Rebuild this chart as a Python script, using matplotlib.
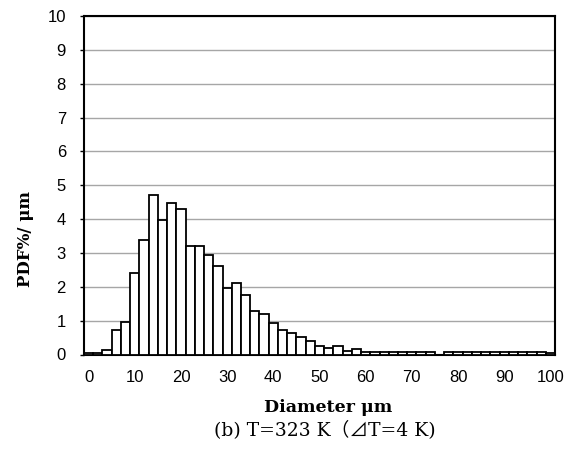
import matplotlib
matplotlib.use("Agg")
import matplotlib.pyplot as plt
import numpy as np

# Category labels (diameter in um, 2 um bins)
categories = list(range(0, 101, 2))
# PDF %/um per bin
pdf_values = [0.05, 0.03, 0.12, 0.72, 0.95, 2.40, 3.38, 4.71, 3.97, 4.48,
              4.29, 3.21, 3.21, 2.94, 2.62, 1.95, 2.12, 1.76, 1.29, 1.20,
              0.92, 0.72, 0.64, 0.53, 0.40, 0.25, 0.20, 0.26, 0.11, 0.17,
              0.08, 0.08, 0.08, 0.08, 0.08, 0.08, 0.08, 0.08, 0.00, 0.08,
              0.08, 0.08, 0.08, 0.08, 0.08, 0.08, 0.08, 0.08, 0.08, 0.08,
              0.05]
shown_labels = [0, 10, 20, 30, 40, 50, 60, 70, 80, 90, 100]
y_ticks = list(range(0, 11))

fig = plt.figure(figsize=(5.76, 4.51), dpi=100)
ax = fig.add_axes([84/576, 1-354.5/451, 471/576, (354.5-16)/451])

x = np.arange(len(categories))
ax.bar(x, pdf_values, width=1.0, color='white', edgecolor='black', linewidth=1.3, zorder=3)

ax.set_xlim(-0.5, len(categories) - 0.5)
ax.set_ylim(0, 10)
tick_pos = [categories.index(v) for v in shown_labels]
ax.set_xticks(tick_pos)
ax.set_xticklabels([str(v) for v in shown_labels], family='Liberation Sans', fontsize=12)
ax.tick_params(axis='x', length=0, pad=11)
ax.set_yticks(y_ticks)
ax.set_yticklabels([str(v) for v in y_ticks], family='Liberation Sans', fontsize=12)
ax.tick_params(axis='y', length=3, width=1, direction='out', pad=10)
ax.yaxis.grid(True, color='#a6a6a6', linewidth=1.0, zorder=0)
ax.set_axisbelow(True)
for s in ax.spines.values():
    s.set_linewidth(1.5)
    s.set_color('black')

fig.text(25/576, 1-239/451, 'PDF%/ μm', rotation=90, ha='center', va='center',
         family=['DejaVu Serif'], fontweight='bold', fontsize=12)
fig.text(328/576, 1-408/451, 'Diameter μm', ha='center', va='center',
         family=['DejaVu Serif'], fontweight='bold', fontsize=12.5)
fig.text(325/576, 1-430/451, '(b) T=323 K（⊿T=4 K)', ha='center', va='center',
         family=['DejaVu Serif', 'Noto Sans CJK JP'], fontsize=13.5)

fig.savefig('out.png', dpi=100)
